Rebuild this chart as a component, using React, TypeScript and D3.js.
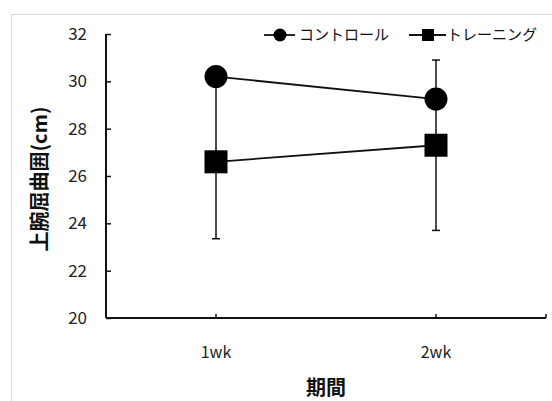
import React, { useEffect, useRef } from 'react'
import * as d3 from 'd3'

const periods = ['1wk', '2wk']
const controlValues = [30.2, 29.25]
const trainingValues = [26.6, 27.3]
const trainingErrors = [3.25, 3.6]
const yTicks = [20, 22, 24, 26, 28, 30, 32]
const seriesNames = ['コントロール', 'トレーニング']

const FONT = '"Noto Sans CJK JP", "Noto Sans", sans-serif'

function ArmChart() {
    const ref = useRef<SVGSVGElement>(null)

    useEffect(() => {
        const svg = d3.select(ref.current)
        svg.selectAll('*').remove()

        const width = 552
        const height = 401
        const margin = { left: 106, right: 6, top: 34, bottom: 83 }

        // chart frame
        svg.append('rect')
            .attr('x', 11.5).attr('y', 14.5)
            .attr('width', width).attr('height', height)
            .attr('fill', '#fff')
            .attr('stroke', '#d9d9d9')

        const x = d3.scaleBand<string>()
            .domain(periods)
            .range([margin.left, width - margin.right])
            .padding(0)

        const y = d3.scaleLinear()
            .domain([20, 32])
            .range([height - margin.bottom, margin.top])

        const cx = (p: string) => (x(p) || 0) + x.bandwidth() / 2

        // y axis
        const yAxis = svg.append('g')
            .attr('transform', `translate(${margin.left},0)`)
            .call(d3.axisRight(y).tickValues(yTicks).tickSize(5).tickFormat(() => ''))
        yAxis.select('.domain').remove()
        yAxis.selectAll('line').attr('stroke', '#111').attr('stroke-width', 1.5)
        svg.append('line')
            .attr('x1', margin.left).attr('x2', margin.left)
            .attr('y1', y(32)).attr('y2', y(20))
            .attr('stroke', '#111').attr('stroke-width', 2)

        svg.append('g')
            .selectAll('text')
            .data(yTicks)
            .join('text')
            .attr('x', 87)
            .attr('y', d => y(d))
            .attr('dy', '0.35em')
            .attr('text-anchor', 'end')
            .attr('font-family', FONT)
            .attr('font-size', 17)
            .attr('fill', '#222')
            .text(d => d)

        // x axis
        svg.append('line')
            .attr('x1', margin.left).attr('x2', width - margin.right)
            .attr('y1', y(20)).attr('y2', y(20))
            .attr('stroke', '#111').attr('stroke-width', 2)

        const xTickPos = [...periods.map(cx), width - margin.right]
        svg.append('g')
            .selectAll('line')
            .data(xTickPos)
            .join('line')
            .attr('x1', d => d).attr('x2', d => d)
            .attr('y1', y(20)).attr('y2', y(20) - 4)
            .attr('stroke', '#111').attr('stroke-width', 1.5)

        svg.append('g')
            .selectAll('text')
            .data(periods)
            .join('text')
            .attr('x', d => cx(d))
            .attr('y', 352)
            .attr('dy', '0.35em')
            .attr('text-anchor', 'middle')
            .attr('font-family', FONT)
            .attr('font-size', 16)
            .attr('fill', '#222')
            .text(d => d)

        // axis titles
        svg.append('text')
            .attr('transform', `translate(40,${(y(32) + y(20)) / 2 + 3}) rotate(-90)`)
            .attr('dy', '0.35em')
            .attr('text-anchor', 'middle')
            .attr('font-family', FONT)
            .attr('font-size', 20)
            .attr('font-weight', 'bold')
            .attr('fill', '#111')
            .text('上腕屈曲囲(cm)')

        svg.append('text')
            .attr('x', 326)
            .attr('y', 388)
            .attr('dy', '0.35em')
            .attr('text-anchor', 'middle')
            .attr('font-family', FONT)
            .attr('font-size', 20)
            .attr('font-weight', 'bold')
            .attr('fill', '#111')
            .text('期間')

        // error bars (training)
        const eb = svg.append('g').attr('stroke', '#111').attr('stroke-width', 1.5)
        periods.forEach((p, i) => {
            const lo = y(trainingValues[i] - trainingErrors[i])
            const hi = y(trainingValues[i] + trainingErrors[i])
            eb.append('line').attr('x1', cx(p)).attr('x2', cx(p)).attr('y1', lo).attr('y2', hi)
            eb.append('line').attr('x1', cx(p) - 4).attr('x2', cx(p) + 4).attr('y1', lo).attr('y2', lo)
            eb.append('line').attr('x1', cx(p) - 4).attr('x2', cx(p) + 4).attr('y1', hi).attr('y2', hi)
        })

        const line = d3.line<number>()
            .x((_, i) => cx(periods[i]))
            .y(d => y(d))

        // control
        svg.append('path')
            .datum(controlValues)
            .attr('d', line)
            .attr('fill', 'none')
            .attr('stroke', '#111')
            .attr('stroke-width', 1.8)
        svg.append('g')
            .selectAll('circle')
            .data(controlValues)
            .join('circle')
            .attr('cx', (_, i) => cx(periods[i]))
            .attr('cy', d => y(d))
            .attr('r', 11.5)
            .attr('fill', '#000')

        // training
        svg.append('path')
            .datum(trainingValues)
            .attr('d', line)
            .attr('fill', 'none')
            .attr('stroke', '#111')
            .attr('stroke-width', 1.8)
        svg.append('g')
            .selectAll('rect')
            .data(trainingValues)
            .join('rect')
            .attr('x', (_, i) => cx(periods[i]) - 11.5)
            .attr('y', d => y(d) - 11.5)
            .attr('width', 23)
            .attr('height', 23)
            .attr('fill', '#000')

        // legend
        const leg = svg.append('g')
        const ly = 35
        leg.append('line').attr('x1', 264).attr('x2', 295).attr('y1', ly).attr('y2', ly)
            .attr('stroke', '#111').attr('stroke-width', 1.8)
        leg.append('circle').attr('cx', 280).attr('cy', ly).attr('r', 6.5).attr('fill', '#000')
        leg.append('text').attr('x', 299).attr('y', ly).attr('dy', '0.35em')
            .attr('font-family', FONT).attr('font-size', 15).attr('fill', '#111')
            .text(seriesNames[0])
        leg.append('line').attr('x1', 409).attr('x2', 446).attr('y1', ly).attr('y2', ly)
            .attr('stroke', '#111').attr('stroke-width', 1.8)
        leg.append('rect').attr('x', 422).attr('y', ly - 6).attr('width', 12).attr('height', 12).attr('fill', '#000')
        leg.append('text').attr('x', 447).attr('y', ly).attr('dy', '0.35em')
            .attr('font-family', FONT).attr('font-size', 15).attr('fill', '#111')
            .text(seriesNames[1])
    }, [])

    return <svg ref={ref} width={552} height={401} style={{ position: 'absolute', left: 0, top: 0, background: '#fff' }} />
}

export default function App() {
    return <ArmChart />
}
